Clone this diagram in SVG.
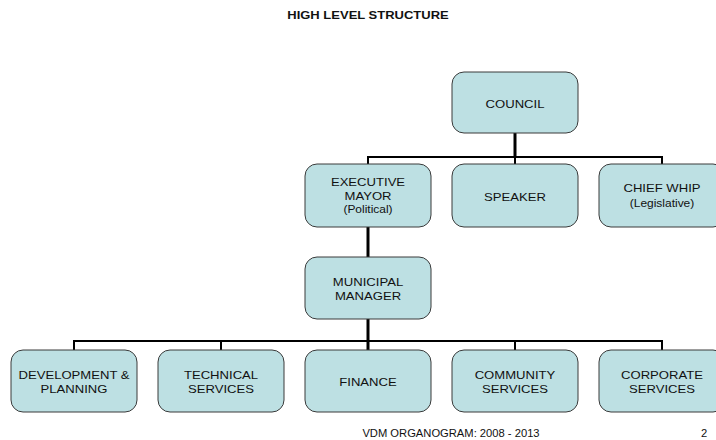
<svg xmlns="http://www.w3.org/2000/svg" width="716" height="440" viewBox="0 0 716 440">
  <style>
    .box { fill: #bde0e3; stroke: #3a3a3a; stroke-width: 1; }
    .lbl { font-family: "Liberation Sans", Arial, sans-serif; font-size: 11.6px; fill: #111; text-anchor: middle; }
    .sub { font-size: 10.6px; }
    .ttl { font-weight: bold; font-size: 11.5px; }
    .foot { font-size: 11.2px; }
    .bus { stroke: #000; stroke-width: 2; fill: none; }
    .trunk { stroke: #000; stroke-width: 3; fill: none; }
  </style>
  <rect width="716" height="440" fill="#ffffff"/>

  <!-- box lettering and title are set slightly wide (x1.13) -->
  <text class="lbl ttl" transform="translate(368 19) scale(1.13 1)">HIGH LEVEL STRUCTURE</text>

  <!-- connectors -->
  <g id="connectors">
    <line class="trunk" x1="515" y1="133" x2="515" y2="158"/>
    <polyline class="bus" points="368,164 368,157 662,157 662,164"/>
    <line class="bus" x1="515" y1="157" x2="515" y2="164"/>
    <line class="trunk" x1="368" y1="227" x2="368" y2="257"/>
    <line class="trunk" x1="368" y1="319" x2="368" y2="350"/>
    <polyline class="bus" points="74,350 74,341 662,341 662,350"/>
    <line class="bus" x1="221" y1="341" x2="221" y2="350"/>
    <line class="bus" x1="515" y1="341" x2="515" y2="350"/>
  </g>

  <g id="council">
    <rect class="box" x="452" y="72" width="126" height="61" rx="12"/>
    <text class="lbl" transform="translate(515 107.5) scale(1.13 1)">COUNCIL</text>
  </g>
  <g id="executive-mayor">
    <rect class="box" x="305" y="164" width="126" height="63" rx="12"/>
    <text class="lbl" transform="translate(368 186) scale(1.13 1)">EXECUTIVE</text>
    <text class="lbl" transform="translate(368 199.5) scale(1.13 1)">MAYOR</text>
    <text class="lbl sub" transform="translate(368 212.5) scale(1.13 1)">(Political)</text>
  </g>
  <g id="speaker">
    <rect class="box" x="452" y="164" width="126" height="63" rx="12"/>
    <text class="lbl" transform="translate(515 200.5) scale(1.13 1)">SPEAKER</text>
  </g>
  <g id="chief-whip">
    <rect class="box" x="599" y="164" width="126" height="63" rx="12"/>
    <text class="lbl" transform="translate(662 192) scale(1.13 1)">CHIEF WHIP</text>
    <text class="lbl sub" transform="translate(662 207) scale(1.13 1)">(Legislative)</text>
  </g>
  <g id="municipal-manager">
    <rect class="box" x="305" y="257" width="126" height="62" rx="12"/>
    <text class="lbl" transform="translate(368 286) scale(1.13 1)">MUNICIPAL</text>
    <text class="lbl" transform="translate(368 300) scale(1.13 1)">MANAGER</text>
  </g>
  <g id="development-planning">
    <rect class="box" x="11" y="350" width="126" height="62" rx="12"/>
    <text class="lbl" transform="translate(74 379) scale(1.13 1)">DEVELOPMENT &amp;</text>
    <text class="lbl" transform="translate(74 393) scale(1.13 1)">PLANNING</text>
  </g>
  <g id="technical-services">
    <rect class="box" x="158" y="350" width="126" height="62" rx="12"/>
    <text class="lbl" transform="translate(221 379) scale(1.13 1)">TECHNICAL</text>
    <text class="lbl" transform="translate(221 393) scale(1.13 1)">SERVICES</text>
  </g>
  <g id="finance">
    <rect class="box" x="305" y="350" width="126" height="62" rx="12"/>
    <text class="lbl" transform="translate(368 386) scale(1.13 1)">FINANCE</text>
  </g>
  <g id="community-services">
    <rect class="box" x="452" y="350" width="126" height="62" rx="12"/>
    <text class="lbl" transform="translate(515 379) scale(1.13 1)">COMMUNITY</text>
    <text class="lbl" transform="translate(515 393) scale(1.13 1)">SERVICES</text>
  </g>
  <g id="corporate-services">
    <rect class="box" x="599" y="350" width="126" height="62" rx="12"/>
    <text class="lbl" transform="translate(662 379) scale(1.13 1)">CORPORATE</text>
    <text class="lbl" transform="translate(662 393) scale(1.13 1)">SERVICES</text>
  </g>

  <text class="lbl foot" x="451" y="437">VDM ORGANOGRAM: 2008 - 2013</text>
  <text class="lbl foot" x="704" y="437">2</text>
</svg>
